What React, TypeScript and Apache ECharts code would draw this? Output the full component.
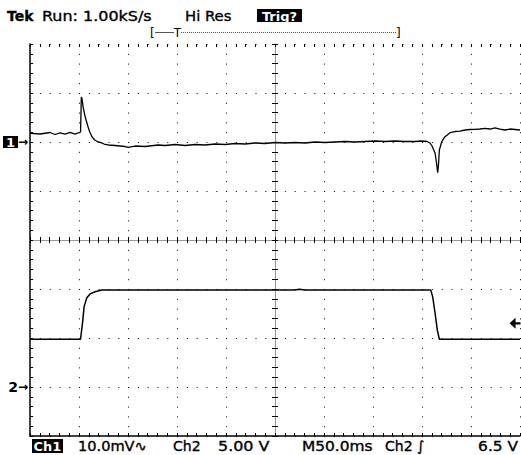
import React, { useEffect, useRef } from "react";
import * as echarts from "echarts";

// Time axis (ms), M50.0ms/div, 10 divisions
const timeMin = 0;
const timeMax = 500;
const timeDiv = 50;

// Channel 1 (mV), 10.0 mV/div, ground marker "1" 2 div below top
const ch1Min = -60;
const ch1Max = 20;
const ch1Div = 10;
const ch1Time = [
  0, 10.2, 20.4, 25.5, 30.6, 35.7, 40.8, 45.9, 49, 51.5, 52.3, 53, 54.1, 55.6, 57.1, 59.2, 60.9, 63.3, 66,
  69.4, 72.4, 75.5, 79.6, 86.7, 96.9, 100, 107.1, 117.3, 130.6, 137.8, 148, 158.2, 168.4, 178.6, 188.8,
  199, 209.2, 219.4, 229.6, 239.8, 250, 260.2, 270.4, 280.6, 290.8, 301, 311.2, 321.4, 331.6, 341.8, 352,
  362.2, 372.4, 382.7, 392.9, 400, 405.1, 408.2, 410.2, 413.3, 414.8, 416, 416.8, 417.7, 420.1, 423.5,
  428.6, 433.7, 438.8, 443.9, 449, 454.1, 459.2, 464.3, 469.4, 474.5, 479.6, 484.7, 489.8, 494.9, 500,
];
const ch1mV = [
  1.78, 1.63, 1.94, 1.53, 1.84, 1.63, 1.94, 1.63, 1.84, 2.04, 9.18, 8.8, 7.14, 5.7, 4.49, 3.06, 2.04, 1.02, 0.41,
  0, -0.14, -0.41, -0.61, -0.71, -0.92, -1.08, -0.82, -0.92, -0.61, -0.71, -0.51, -0.71, -0.51, -0.61, -0.41,
  -0.51, -0.31, -0.41, -0.2, -0.31, -0.1, -0.2, -0.1, -0.2, 0, -0.1, 0, 0.1, 0, 0.1, 0.2,
  0.1, 0.2, 0.1, 0.1, 0.2, 0.1, -0.2, -0.82, -2.24, -4.29, -6.27, -4.69, -1.63, 0.06, 1.08,
  1.9, 2.14, 2.24, 2.45, 2.55, 2.59, 2.65, 2.76, 2.65, 2.86, 2.65, 2.45, 2.65, 2.55, 2.45,
];

// Channel 2 (V), 5.00 V/div, ground marker "2" 1 div above bottom
const ch2Min = -5;
const ch2Max = 35;
const ch2Div = 5;
const ch2Time = [0, 51.5, 53.8, 55.1, 57.9, 61.2, 66.3, 73.2, 270, 275, 280, 408.9, 410.9, 413.3, 415.6, 417.7, 500];
const ch2V = [4.87, 4.87, 6.8, 8.2, 9.1, 9.5, 9.72, 9.9, 9.9, 9.98, 9.9, 9.9, 9.2, 7.55, 5.8, 4.87, 4.87];

// Trigger level on Ch2 (V)
const trigLevel = 6.5;

// Screen divisions for the centre cross-hair
const divRangeY = [-4, 4];
const divRangeX = [-5, 5];

const ch1Data = ch1Time.map((t, i) => [t, ch1mV[i]]);
const ch2Data = ch2Time.map((t, i) => [t, ch2V[i]]);

const FONT = "DejaVu Sans";
const dotted = [1, 8.8];

function label(text: string, x: number, y: number, scaleX: number, extra: any = {}) {
  return {
    type: "text",
    x,
    y,
    scaleX,
    style: {
      text,
      fill: "#000",
      stroke: "#000",
      lineWidth: 0.35,
      font: `14px ${FONT}`,
      textVerticalAlign: "middle",
      ...extra,
    },
  };
}

export default function App() {
  const ref = useRef<HTMLDivElement>(null);

  useEffect(() => {
    if (!ref.current) return;
    const chart = echarts.init(ref.current, null, { renderer: "svg" });

    const tickStyle = { color: "#000", width: 1 };

    const option: any = {
      animation: false,
      backgroundColor: "#fff",
      grid: { left: 30, top: 44, width: 490, height: 392, containLabel: false },
      xAxis: [
        {
          type: "value",
          min: timeMin,
          max: timeMax,
          interval: timeDiv,
          position: "bottom",
          axisLine: { show: true, onZero: false, lineStyle: { color: "#000", width: 1.5 } },
          axisTick: { show: true, inside: true, length: 3, lineStyle: tickStyle },
          minorTick: { show: true, splitNumber: 5, length: 3, lineStyle: tickStyle },
          axisLabel: { show: false },
          splitLine: { show: true, lineStyle: { color: "#000", width: 1, type: dotted } },
        },
        {
          type: "value",
          min: timeMin,
          max: timeMax,
          interval: timeDiv,
          position: "top",
          axisLine: { show: false, onZero: false },
          axisTick: { show: true, inside: true, length: 3, lineStyle: tickStyle },
          minorTick: { show: true, splitNumber: 5, length: 3, lineStyle: tickStyle },
          axisLabel: { show: false },
          splitLine: { show: false },
        },
        {
          type: "value",
          min: timeMin,
          max: timeMax,
          interval: timeDiv,
          position: "bottom",
          axisLine: { show: true, onZero: true, onZeroAxisIndex: 2, lineStyle: { color: "#999", width: 1 } },
          axisTick: { show: true, inside: true, length: 3, lineStyle: tickStyle },
          minorTick: { show: true, splitNumber: 5, length: 3, lineStyle: tickStyle },
          axisLabel: { show: false },
          splitLine: { show: false },
        },
        {
          type: "value",
          min: timeMin,
          max: timeMax,
          interval: timeDiv,
          position: "bottom",
          axisLine: { show: false, onZero: true, onZeroAxisIndex: 2 },
          axisTick: { show: true, inside: false, length: 3, lineStyle: tickStyle },
          minorTick: { show: true, splitNumber: 5, length: 3, lineStyle: tickStyle },
          axisLabel: { show: false },
          splitLine: { show: false },
        },
        {
          type: "value",
          min: divRangeX[0],
          max: divRangeX[1],
          interval: 1,
          position: "top",
          axisLine: { show: false, onZero: false },
          axisTick: { show: false },
          axisLabel: { show: false },
          splitLine: { show: false },
        },
      ],
      yAxis: [
        {
          type: "value",
          min: ch1Min,
          max: ch1Max,
          interval: ch1Div,
          position: "left",
          axisLine: { show: true, onZero: false, lineStyle: { color: "#000", width: 1.5 } },
          axisTick: { show: true, inside: true, length: 3, lineStyle: tickStyle },
          minorTick: { show: true, splitNumber: 5, length: 3, lineStyle: tickStyle },
          axisLabel: {
            show: true,
            margin: 2,
            formatter: (v: number) => (v === 0 ? "{inv|1}{arr|→}" : ""),
            rich: {
              inv: {
                backgroundColor: "#000",
                color: "#fff",
                fontFamily: FONT,
                fontWeight: "bold",
                fontSize: 13,
                padding: [0, 3, 0, 3],
                height: 12,
                lineHeight: 12,
              },
              arr: { color: "#000", fontFamily: FONT, fontSize: 12, fontWeight: "bold" },
            },
          },
          splitLine: { show: true, lineStyle: { color: "#000", width: 1, type: dotted } },
        },
        {
          type: "value",
          min: ch2Min,
          max: ch2Max,
          interval: ch2Div,
          position: "left",
          axisLine: { show: false, onZero: false },
          axisTick: { show: false },
          axisLabel: {
            show: true,
            margin: 2,
            formatter: (v: number) => (v === 0 ? "{n|2}{arr|→}" : ""),
            rich: {
              n: { color: "#000", fontFamily: FONT, fontWeight: "bold", fontSize: 14 },
              arr: { color: "#000", fontFamily: FONT, fontSize: 12, fontWeight: "bold" },
            },
          },
          splitLine: { show: false },
        },
        {
          type: "value",
          min: divRangeY[0],
          max: divRangeY[1],
          interval: 1,
          position: "right",
          axisLine: { show: false, onZero: false },
          axisTick: { show: false },
          axisLabel: { show: false },
          splitLine: { show: false },
        },
        {
          type: "value",
          min: ch1Min,
          max: ch1Max,
          interval: ch1Div,
          position: "left",
          axisLine: { show: true, onZero: true, onZeroAxisIndex: 4, lineStyle: { color: "#999", width: 1 } },
          axisTick: { show: true, inside: true, length: 3, lineStyle: tickStyle },
          minorTick: { show: true, splitNumber: 5, length: 3, lineStyle: tickStyle },
          axisLabel: { show: false },
          splitLine: { show: false },
        },
        {
          type: "value",
          min: ch1Min,
          max: ch1Max,
          interval: ch1Div,
          position: "left",
          axisLine: { show: false, onZero: true, onZeroAxisIndex: 4 },
          axisTick: { show: true, inside: false, length: 3, lineStyle: tickStyle },
          minorTick: { show: true, splitNumber: 5, length: 3, lineStyle: tickStyle },
          axisLabel: { show: false },
          splitLine: { show: false },
        },
      ],
      series: [
        {
          name: "Ch1",
          type: "line",
          xAxisIndex: 0,
          yAxisIndex: 0,
          data: ch1Data,
          showSymbol: false,
          symbol: "none",
          lineStyle: { color: "#000", width: 1.3 },
          silent: true,
          z: 10,
        },
        {
          name: "Ch2",
          type: "line",
          xAxisIndex: 0,
          yAxisIndex: 1,
          data: ch2Data,
          showSymbol: false,
          symbol: "none",
          lineStyle: { color: "#000", width: 1.5 },
          silent: true,
          z: 10,
          markPoint: {
            silent: true,
            symbol: "path://M0,5L5.5,0L5.5,4L10,4L10,6L5.5,6L5.5,10Z",
            symbolSize: [11, 11],
            symbolOffset: [-5, 0],
            itemStyle: { color: "#000" },
            label: { show: false },
            data: [{ coord: [timeMax, trigLevel] }],
          },
        },
      ],
      graphic: [
        // header
        { type: "text", x: 7, y: 16, style: { text: "Tek", fill: "#000", stroke: "#000", lineWidth: 0.3, font: `bold 14px ${FONT}`, textVerticalAlign: "middle" } },
        label("Run: 1.00kS/s", 42, 16, 1.14),
        label("Hi Res", 185, 16, 1.06),
        { type: "rect", shape: { x: 257, y: 9, width: 45, height: 13 }, style: { fill: "#000" } },
        { type: "text", x: 279.5, y: 16, style: { text: "Trig?", fill: "#fff", font: `bold 13px ${FONT}`, textAlign: "center", textVerticalAlign: "middle" } },
        // record bracket
        { type: "text", x: 150, y: 33, style: { text: "[", fill: "#000", font: `12px ${FONT}`, textVerticalAlign: "middle" } },
        { type: "text", x: 396, y: 33, style: { text: "]", fill: "#000", font: `12px ${FONT}`, textVerticalAlign: "middle" } },
        { type: "line", shape: { x1: 155, y1: 32.5, x2: 174, y2: 32.5 }, style: { stroke: "#555", lineWidth: 1 } },
        { type: "line", shape: { x1: 181, y1: 32.5, x2: 397, y2: 32.5 }, style: { stroke: "#555", lineWidth: 1, lineDash: [1, 1] } },
        { type: "text", x: 177.5, y: 33, style: { text: "T", fill: "#000", font: `12px ${FONT}`, textAlign: "center", textVerticalAlign: "middle" } },
        // footer
        { type: "rect", shape: { x: 32, y: 439, width: 31, height: 14 }, style: { fill: "#000" } },
        { type: "text", x: 47.5, y: 446, style: { text: "Ch1", fill: "#fff", font: `bold 13px ${FONT}`, textAlign: "center", textVerticalAlign: "middle" } },
        label("10.0mV∿", 78, 446, 1.04),
        label("Ch2", 173, 446, 1.0),
        label("5.00 V", 218, 446, 1.14),
        label("M50.0ms", 302, 446, 1.1),
        label("Ch2 ∫", 385, 446, 1.0),
        label("6.5 V", 518, 446, 1.1, { textAlign: "right" }),
      ],
    };

    chart.setOption(option);
    return () => chart.dispose();
  }, []);

  return (
    <div
      ref={ref}
      style={{ position: "absolute", left: 0, top: 0, width: 521, height: 455, background: "#fff" }}
    />
  );
}
